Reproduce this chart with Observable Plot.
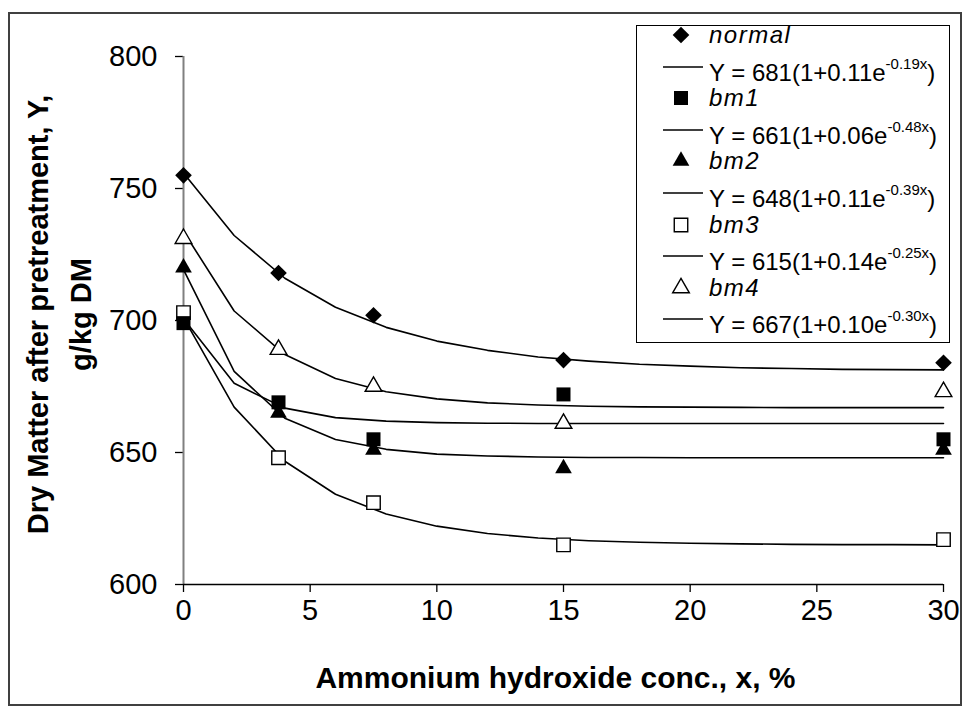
<!DOCTYPE html>
<html><head><meta charset="utf-8">
<script src="https://cdn.jsdelivr.net/npm/d3@7"></script>
<script src="https://cdn.jsdelivr.net/npm/@observablehq/plot@0.6"></script>
<style>
body{margin:0;background:#fff;}
#wrap{position:relative;width:965px;height:708px;font-family:"Liberation Sans",Arial,sans-serif;overflow:hidden}
#wrap svg [aria-label$="tick label"]{font-size:29px !important}
#frame{position:absolute;left:8px;top:12px;width:954px;height:694px;border:2px solid #404040;box-sizing:border-box;pointer-events:none}
#legend{position:absolute;left:636px;top:25px;width:314px;height:318px;border:1.5px solid #000;box-sizing:border-box;background:#fff}
.row{position:absolute;left:0;height:30px;width:100%}
.row svg{position:absolute;left:0;top:0}
.row span.t{position:absolute;left:72px;top:0;line-height:30px;font-size:24px;color:#000;white-space:nowrap}
.row span.it{font-style:italic;letter-spacing:1.5px}
sup{font-size:15px;position:relative;top:-3px}
</style></head><body><div id="wrap"><div id="frame"></div></div>
<script>
// Observed data
const xObs = [0, 3.75, 7.5, 15, 30];
const normal = [755, 718, 702, 685, 684];
const bm1 = [699, 669, 655, 672, 655];
const bm2 = [720, 665, 651, 644, 651];
const bm3 = [703, 648, 631, 615, 617];
const bm4 = [731, 689, 675, 661, 673];

// Fitted curves (tabulated)
const xFit = [0, 2, 4, 6, 8, 10, 12, 14, 16, 18, 20, 22, 24, 26, 28, 30];
const fitNormal = [755.9, 732.2, 716.0, 705.0, 697.4, 692.2, 688.7, 686.2, 684.6, 683.4, 682.7, 682.1, 681.8, 681.5, 681.4, 681.3];
const fitBm1 = [700.7, 676.2, 666.8, 663.2, 661.9, 661.3, 661.1, 661.0, 661.0, 661.0, 661.0, 661.0, 661.0, 661.0, 661.0, 661.0];
const fitBm2 = [719.3, 680.7, 663.0, 654.9, 651.2, 649.4, 648.7, 648.3, 648.1, 648.1, 648.0, 648.0, 648.0, 648.0, 648.0, 648.0];
const fitBm3 = [701.1, 667.2, 646.7, 634.2, 626.7, 622.1, 619.3, 617.6, 616.6, 616.0, 615.6, 615.4, 615.2, 615.1, 615.1, 615.0];
const fitBm4 = [733.7, 703.6, 687.1, 678.0, 673.0, 670.3, 668.8, 668.0, 667.5, 667.3, 667.2, 667.1, 667.0, 667.0, 667.0, 667.0];

const xTicks = [0, 5, 10, 15, 20, 25, 30];
const yTicks = [600, 650, 700, 750, 800];

const seriesNames = ["normal", "bm1", "bm2", "bm3", "bm4"];
const equations = [
  ["Y = 681(1+0.11e", "-0.19x", ")"],
  ["Y = 661(1+0.06e", "-0.48x", ")"],
  ["Y = 648(1+0.11e", "-0.39x", ")"],
  ["Y = 615(1+0.14e", "-0.25x", ")"],
  ["Y = 667(1+0.10e", "-0.30x", ")"]
];

const obs = [normal, bm1, bm2, bm3, bm4];
const fits = [fitNormal, fitBm1, fitBm2, fitBm3, fitBm4];
const styles = [
  {symbol: "diamond2", r: 7.5, fill: "#000", stroke: "none"},
  {symbol: "square", r: 7.9, fill: "#000", stroke: "none"},
  {symbol: "triangle", r: 6.2, fill: "#000", stroke: "none"},
  {symbol: "square", r: 7.6, fill: "#fff", stroke: "#000"},
  {symbol: "triangle", r: 6.2, fill: "#fff", stroke: "#000"}
];
const d3sym = {diamond2: d3.symbolDiamond2, square: d3.symbolSquare, triangle: d3.symbolTriangle};

const fitMarks = fits.map(f => Plot.line(xFit.map((x, i) => ({x, y: f[i]})), {x: "x", y: "y", stroke: "#000", strokeWidth: 1.6}));
const dotMarks = [4, 3, 2, 1, 0].map(k => Plot.dot(xObs.map((x, i) => ({x, y: obs[k][i]})), {
  x: "x", y: "y", symbol: styles[k].symbol, r: styles[k].r, fill: styles[k].fill, stroke: styles[k].stroke, strokeWidth: 1.4
}));

const chart = Plot.plot({
  width: 965, height: 708,
  marginLeft: 183, marginRight: 22, marginTop: 56, marginBottom: 124,
  style: {fontFamily: "Liberation Sans, Arial, sans-serif", fontSize: "28px", color: "#000", background: "transparent"},
  x: {domain: [0, 30]},
  y: {domain: [600, 800]},
  marks: [
    Plot.axisX({ticks: xTicks, tickSize: 8, tickPadding: 7, label: null, stroke: "#000", strokeWidth: 1.3, fontSize: 29}),
    Plot.axisY({ticks: yTicks, tickSize: 8, tickPadding: 18, label: null, stroke: "#000", strokeWidth: 1.3, fontSize: 29}),
    Plot.ruleX([0], {stroke: "#808080", strokeWidth: 2}),
    Plot.ruleY([600], {stroke: "#000", strokeWidth: 1.5}),
    ...fitMarks,
    ...dotMarks,
    Plot.text(["Ammonium hydroxide conc., x, %"], {frameAnchor: "bottom", dy: 103, dx: -8, fontWeight: "bold", fontSize: 30}),
    Plot.text(["Dry Matter after pretreatment, Y,"], {frameAnchor: "left", textAnchor: "middle", dx: -145, dy: -6, rotate: -90, fontWeight: "bold", fontSize: 29}),
    Plot.text(["g/kg DM"], {frameAnchor: "left", textAnchor: "middle", dx: -102, dy: -6, rotate: -90, fontWeight: "bold", fontSize: 29})
  ]
});
const wrap = document.getElementById("wrap");
wrap.insertBefore(chart, wrap.firstChild);

// Legend
const legend = document.createElement("div");
legend.id = "legend";
wrap.appendChild(legend);
const rowTop0 = 34 - 25 - 15, step = 31.6;
for (let k = 0; k < 5; k++) {
  for (let j = 0; j < 2; j++) {
    const idx = k * 2 + j;
    const row = document.createElement("div");
    row.className = "row";
    row.style.top = (rowTop0 + idx * step) + "px";
    const svg = d3.create("svg").attr("width", 70).attr("height", 30);
    if (j === 0) {
      const s = styles[k];
      svg.append("path")
        .attr("transform", "translate(44,15)")
        .attr("d", d3.symbol().type(d3sym[s.symbol]).size(Math.PI * s.r * s.r)())
        .attr("fill", s.fill).attr("stroke", s.stroke).attr("stroke-width", 1.4);
    } else {
      svg.append("line").attr("x1", 26).attr("x2", 66).attr("y1", 15).attr("y2", 15)
        .attr("stroke", "#000").attr("stroke-width", 1.6);
    }
    row.appendChild(svg.node());
    const t = document.createElement("span");
    t.className = "t" + (j === 0 ? " it" : "");
    if (j === 0) t.textContent = seriesNames[k];
    else {
      t.appendChild(document.createTextNode(equations[k][0]));
      const sup = document.createElement("sup");
      sup.textContent = equations[k][1];
      t.appendChild(sup);
      t.appendChild(document.createTextNode(equations[k][2]));
    }
    row.appendChild(t);
    legend.appendChild(row);
  }
}
</script>
</body></html>
